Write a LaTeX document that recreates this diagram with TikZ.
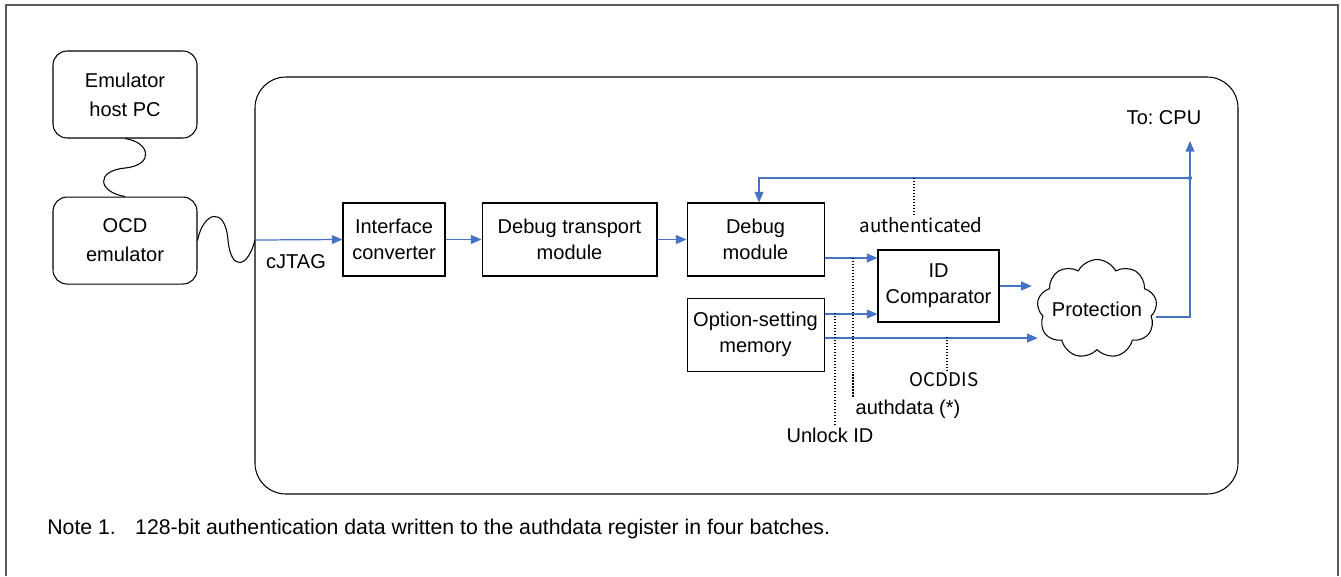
\documentclass[tikz,border=0pt]{standalone}
\usepackage{fontspec}
\setmainfont{Liberation Sans}
\newfontfamily\jpfont{Noto Sans CJK JP}
\usepackage{tikz}
\usetikzlibrary{arrows.meta,positioning,shapes.symbols,calc}
\definecolor{wireblue}{RGB}{68,114,196}
\definecolor{framegray}{RGB}{89,89,89}
\newcommand{\lblfont}{\fontsize{11.4}{14.7}\selectfont}
\frenchspacing
\tikzset{
  box/.style={rectangle, draw, minimum height=1.46cm, align=center, font=\lblfont,
              line width=0.6pt, inner sep=2pt},
  hbox/.style={rectangle, draw, rounded corners=8pt, minimum width=2.88cm,
               minimum height=1.74cm, align=center, line width=0.6pt,
               font=\fontsize{11.4}{16.5}\selectfont},
  arr/.style={-{Triangle[length=6pt,width=5pt]}, draw=wireblue, line width=0.7pt},
  wire/.style={draw=wireblue, line width=0.7pt},
  tap/.style={densely dotted, line width=0.7pt},
  sig/.style={font=\jpfont\fontsize{10.7}{13}\selectfont, inner sep=1pt},
  txt/.style={font=\lblfont, inner sep=1pt}
}

\begin{document}
\begin{tikzpicture}[x=0.02cm, y=-0.02cm]
  \useasboundingbox (0,0) rectangle (1341,576);
  % frame and chip outline
  \draw[framegray, line width=1.1pt] (6,576) -- (6,5) -- (1338,5) -- (1338,576);
  \draw[rounded corners=0.62cm, line width=0.6pt] (255,77) rectangle (1238,494);

  % emulator side
  \node[hbox] (host) at (125,94.5) {Emulator\\host PC};
  \node[hbox, below=1.16cm of host] (ocd) {OCD\\emulator};
  \draw[line width=0.6pt] (host.south) .. controls (150,142) and (155,165) .. (125,168)
    .. controls (95,171) and (98,192) .. (ocd.north);
  \coordinate (jt) at (255,240);
  \draw[line width=0.6pt] (ocd.east) .. controls (203,212) and (225,205) .. (228,240)
    .. controls (231,272) and (248,268) .. (jt);

  % on-chip blocks
  \node[box, minimum width=2.04cm] (ic) at (394,239.5) {Interface\\converter};
  \node[box, minimum width=3.5cm, right=0.72cm of ic] (dtm) {Debug transport\\module};
  \node[box, minimum width=2.74cm, right=0.58cm of dtm] (dm) {Debug\\module};
  \node[box, minimum width=2.74cm, below=0.42cm of dm] (osm) {Option-setting\\memory};
  \node[box, minimum width=2.42cm, minimum height=1.44cm] (idc) at (938.5,286) {ID\\Comparator};
  \node[cloud, draw, cloud puffs=9, cloud puff arc=125, minimum width=2.4cm,
        minimum height=1.98cm, inner sep=0pt, line width=0.6pt,
        label={[txt]center:Protection}] (prot) at (1097,309) {};

  % labels
  \node[txt] (jtag) at (296,262) {cJTAG};
  \node[txt] (cpu) at (1164,118) {To: CPU};
  \node[sig] (lauth) at (921,225) {authenticated};
  \node[txt] (ladata) at (908,409) {authdata (*)};
  \node[txt] (lunlock) at (830,435) {Unlock ID};
  \node[sig] (locd) at (944,380) {OCDDIS};

  % signal paths
  \draw[arr] (jt) -- (ic.west);
  \draw[arr] (ic) -- (dtm);
  \draw[arr] (dtm) -- (dm);
  \coordinate (dmo) at ([yshift=-0.37cm]dm.east);
  \coordinate (osa) at ([yshift=0.41cm]osm.east);
  \coordinate (osb) at ([yshift=-0.07cm]osm.east);
  \draw[arr] (dmo) -- (dmo -| idc.west);
  \draw[arr] (osa) -- (osa -| idc.west);
  \draw[arr] (osb) -- (osb -| prot.west);
  \draw[arr, shorten >=0.12cm] (idc.east) -- (idc.east -| prot.west);
  \coordinate (pout) at ([yshift=-0.16cm]prot.east);
  \coordinate (jn) at (1190,178);
  \coordinate (cpuin) at (1190,141);
  \draw[arr] (pout) -| (cpuin);
  \fill[wireblue] (jn) circle (1.2pt);
  \draw[arr] (jn) -| ([xshift=0.07cm]dm.north);

  % taps
  \coordinate (t1) at (914,178);
  \coordinate (t2) at (853,258);
  \coordinate (t3) at (835,313);
  \coordinate (t4) at (947,337);
  \draw[tap] (t1) -- (t1 |- lauth.north);
  \draw[tap] (t2) -- (t2 |- ladata.north);
  \draw[tap] (t3) -- (t3 |- lunlock.north);
  \draw[tap] (t4) -- (t4 |- locd.north);

  \node[anchor=west, inner sep=0pt, font=\fontsize{12.1}{14}\selectfont] (note) at (47,529)
    {Note 1.\hspace{11pt}128-bit authentication data written to the authdata register in four batches.};
\end{tikzpicture}
\end{document}
